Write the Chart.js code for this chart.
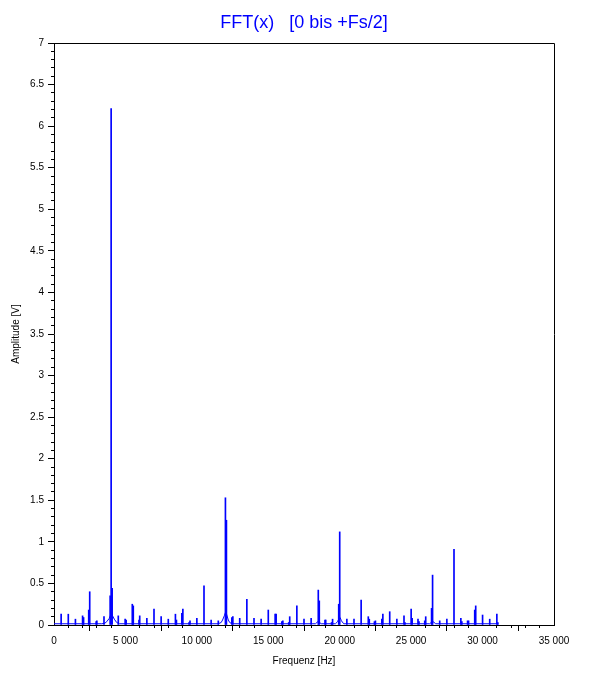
<!DOCTYPE html>
<html>
<head>
<meta charset="utf-8">
<script src="https://cdn.jsdelivr.net/npm/chart.js@4.4.1/dist/chart.umd.min.js"></script>
<style>
  html, body { margin: 0; padding: 0; background: #fff; }
  #wrap { width: 612px; height: 682px; }
</style>
</head>
<body>
<div id="wrap"><canvas id="fft"></canvas></div>
<script>
// spectrum lines (Hz / V)
const spikeFreq = [500, 1000, 1500, 2000, 2070, 2430, 2500, 2950, 3000, 3500,
  3930, 4000, 4070, 4500, 4980, 5050, 5480, 5550, 5950, 6000,
  6500, 7000, 7500, 8000, 8500, 8570, 8950, 9020, 9450, 9520,
  10000, 10500, 11000, 11500, 12000, 12070, 12450, 12520, 13000, 13500,
  14000, 14500, 15000, 15480, 15550, 15950, 16020, 16430, 16500, 17000,
  17500, 18000, 18500, 18570, 18970, 19020, 19430, 19500, 19930, 20000,
  20500, 21000, 21500, 22000, 22070, 22430, 22500, 22950, 23020, 23500,
  24000, 24500, 24570, 25000, 25070, 25480, 25550, 25950, 26020, 26430,
  26500, 27000, 27500, 28000, 28480, 28550, 28950, 29020, 29450, 29520,
  30000, 30500, 31000, 31070]
const spikeAmp = [0.13, 0.13, 0.07, 0.11, 0.09, 0.18, 0.40, 0.04, 0.05, 0.10,
  0.35, 6.21, 0.44, 0.11, 0.07, 0.06, 0.25, 0.23, 0.06, 0.11,
  0.08, 0.19, 0.10, 0.07, 0.13, 0.06, 0.14, 0.19, 0.03, 0.05,
  0.08, 0.47, 0.06, 0.05, 1.53, 1.26, 0.09, 0.10, 0.08, 0.31,
  0.08, 0.07, 0.18, 0.13, 0.13, 0.04, 0.05, 0.03, 0.10, 0.23,
  0.07, 0.08, 0.42, 0.29, 0.06, 0.06, 0.03, 0.07, 0.25, 1.12,
  0.07, 0.07, 0.30, 0.10, 0.07, 0.04, 0.05, 0.07, 0.13, 0.16,
  0.07, 0.11, 0.03, 0.19, 0.08, 0.07, 0.04, 0.05, 0.10, 0.20,
  0.60, 0.05, 0.07, 0.91, 0.08, 0.04, 0.05, 0.05, 0.18, 0.23,
  0.12, 0.07, 0.13, 0.03]

// noise floor with the leakage humps around the strong lines
const floorFreq = [0, 3340, 3550, 3690, 3870, 3960, 4030, 4100, 4220, 4390, 4570,
  11500, 11700, 11800, 11920, 12000, 12080, 12200, 12300, 12450,
  18300, 18500, 18700, 19700, 19850, 19950, 20030, 20120, 20280,
  26300, 26500, 26720, 31100]
const floorAmp = [0.015, 0.015, 0.02, 0.04, 0.08, 0.12, 0.13, 0.11, 0.07, 0.03, 0.015,
  0.015, 0.03, 0.06, 0.11, 0.15, 0.13, 0.06, 0.03, 0.015,
  0.015, 0.045, 0.015, 0.015, 0.04, 0.08, 0.09, 0.05, 0.015,
  0.015, 0.045, 0.015, 0.015]

const titleText = 'FFT(x)   [0 bis +Fs/2]'
const xTitle = 'Frequenz [Hz]'
const yTitle = 'Amplitude [V]'

const FONT = '"Liberation Sans", Arial, sans-serif'
const BLUE = '#0000ff'

const fmtThousands = v => String(v).replace(/\B(?=(\d{3})+(?!\d))/g, ' ')

// box on top/right, minor ticks and the centred title
const frame = {
  id: 'frame',
  afterDraw(chart) {
    const { ctx, chartArea: a, scales: { x, y } } = chart
    const px = v => Math.round(v - 0.5) + 0.5
    ctx.save()
    ctx.strokeStyle = '#000'
    ctx.lineWidth = 1
    ctx.beginPath()
    ctx.moveTo(px(a.left), px(a.top))
    ctx.lineTo(px(a.right), px(a.top))
    ctx.lineTo(px(a.right), px(a.bottom))
    for (let v = 1000; v < 35000; v += 1000) {
      if (v % 5000 === 0) continue
      const xp = px(x.getPixelForValue(v))
      ctx.moveTo(xp, a.bottom)
      ctx.lineTo(xp, a.bottom + 3)
    }
    for (let i = 1; i < 70; i++) {
      if (i % 5 === 0) continue
      const yp = px(y.getPixelForValue(i / 10))
      ctx.moveTo(a.left, yp)
      ctx.lineTo(a.left - 3, yp)
    }
    ctx.stroke()

    ctx.fillStyle = BLUE
    ctx.font = '18px ' + FONT
    ctx.textAlign = 'center'
    ctx.textBaseline = 'middle'
    ctx.fillText(titleText, (a.left + a.right) / 2, 23)
    ctx.restore()
  }
}

const axisCommon = {
  type: 'linear',
  offset: false,
  grid: { drawOnChartArea: false, drawTicks: true, tickLength: 6, color: '#000' },
  border: { display: true, color: '#000', width: 1 }
}

new Chart(document.getElementById('fft'), {
  type: 'bar',
  data: {
    datasets: [
      {
        type: 'line',
        data: floorFreq.map((f, i) => ({ x: f, y: floorAmp[i] })),
        borderColor: BLUE,
        borderWidth: 1,
        pointRadius: 0,
        fill: false,
        tension: 0
      },
      {
        type: 'bar',
        data: spikeFreq.map((f, i) => ({ x: f, y: spikeAmp[i] })),
        backgroundColor: BLUE,
        borderWidth: 0,
        barThickness: 1,
        grouped: false
      }
    ]
  },
  options: {
    responsive: true,
    maintainAspectRatio: false,
    animation: false,
    layout: { padding: { top: 43, right: 58, left: 0, bottom: 0 } },
    plugins: {
      legend: { display: false },
      title: { display: false },
      tooltip: { enabled: false }
    },
    scales: {
      x: {
        ...axisCommon,
        min: 0,
        max: 35000,
        ticks: {
          stepSize: 5000,
          color: '#000',
          padding: 4,
          maxRotation: 0,
          font: { family: FONT, size: 10 },
          callback: v => fmtThousands(v)
        },
        title: {
          display: true,
          text: xTitle,
          color: '#000',
          font: { family: FONT, size: 10 },
          padding: { top: 0, bottom: 15 }
        },
        afterFit(s) { s.height = 57 }
      },
      y: {
        ...axisCommon,
        min: 0,
        max: 7,
        ticks: {
          stepSize: 0.5,
          maxTicksLimit: 20,
          color: '#000',
          padding: 4,
          font: { family: FONT, size: 10 },
          callback: v => String(v)
        },
        title: {
          display: true,
          text: yTitle,
          color: '#000',
          font: { family: FONT, size: 10 },
          padding: { top: 10, bottom: 0 }
        },
        afterFit(s) { s.width = 54 }
      }
    }
  },
  plugins: [frame]
})
</script>
</body>
</html>
